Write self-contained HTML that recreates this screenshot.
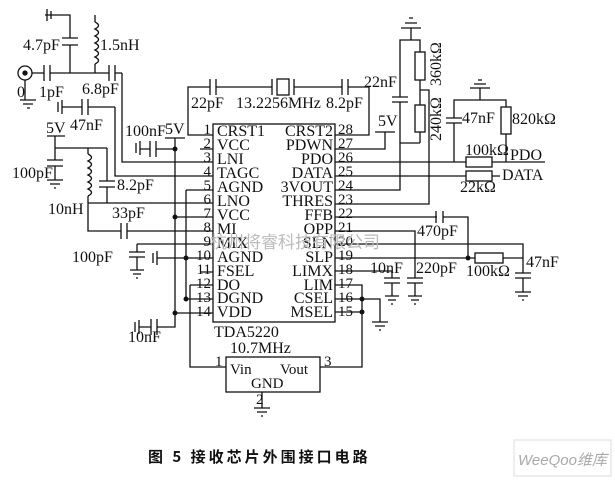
<!DOCTYPE html>
<html><head><meta charset="utf-8"><style>
body{margin:0;background:#fff}
svg{display:block}
text{font-family:"Liberation Serif","Noto Serif CJK SC",serif;font-size:15px;fill:#111}
.c{font-size:16px}
</style></head><body>
<svg width="615" height="480" viewBox="0 0 615 480" xmlns="http://www.w3.org/2000/svg">
<g stroke="#111" stroke-width="1.3" fill="none">
<rect x="213" y="124" width="122" height="198"/>
<path d="M200 135H213M188 93V135H200 M200 149H213 M122 73V162H213 M115 107V176H213 M186 190H213 M88 203H213 M175 217H213 M130 231H213 M137 244H213 M160 258H213 M200 272H213 M190 285H213 M186 299H213 M175 313H213"/>
<path d="M175 138V313 M186 190V299 M190 285V367H226"/>
<path d="M335 135H369V87H352 M335 149H385V132 M375 132H395 M335 162H466 M492 162H545 M335 176H466 M492 176H500 M335 190H400V143H420 M335 204H429V90H420 M335 217H437 M443 217H468V258 M335 231H415V278 M335 244H523V273 M335 258H475 M503 258H523 M335 271H392V278 M335 285H362V312 M335 299H380V318 M335 312H362 M320 367H362V312"/>
<path d="M188 93V87H210 M216 87H270 M296 87H342 M348 87H352"/>
<path d="M210 79V95M216 79V95M342 79V95M348 79V95"/>
<rect x="277" y="79" width="12" height="16"/><path d="M272 79V95M294 79V95"/>
<path d="M270 87H272M294 87H296"/>
<path d="M400 143V102M400 97V40H420V52M420 80V105M420 132V143M411 40V28M401 28H421M405 23H417M409 18H413"/>
<path d="M392 97H408M392 102H408"/>
<rect x="415" y="52" width="10" height="28"/><rect x="415" y="105" width="10" height="27"/>
<path d="M454 162V123M454 118V100H506V107M506 134V162M480 100V88M470 88H490M474 84H486M478 80H482"/>
<path d="M446 118H462M446 123H462"/>
<rect x="501" y="107" width="10" height="27"/>
<rect x="466" y="157" width="26" height="10"/><rect x="466" y="171" width="26" height="10"/>
<path d="M436 211V223M443 211V223"/>
<rect x="475" y="253" width="28" height="10"/>
<path d="M384 278H400M384 283H400M392 283V296M385 296H399M388 300H396M391 304H393"/>
<path d="M407 278H423M407 283H423M415 283V296M408 296H422M411 300H419M414 304H416"/>
<path d="M515 273H531M515 278H531M523 278V292M515 292H531M518 296H528M522 300H524"/>
<path d="M380 318V322M372 322H388M375 326H385M379 330H381"/>
<rect x="226" y="357" width="94" height="35"/>
<path d="M262 392V408M254 408H270M257 412H267M261 416H263"/>
<path d="M47 9V21M51 11V19M45 15H70V38M70 45V73M62 38H78M62 45H78"/>
<path d="M95 15V22 M95 64V73"/>
<path d="M95 22q7 3.5 0 7q7 3.5 0 7q7 3.5 0 7q7 3.5 0 7q7 3.5 0 7q7 3.5 0 7"/>
<circle cx="25" cy="73" r="7"/><circle cx="25" cy="73" r="2" fill="#111"/>
<path d="M32 73H44M50 73H109M115 73H122M44 65V81M50 65V81M109 65V81M115 65V81"/>
<path d="M25 80V100M20 100H36M23 104H33M27 108H30"/>
<path d="M58 102V112M62 100V114M62 107H82M82 99V115M88 99V115M88 107H115"/>
<path d="M136 143V153M140 141V155M140 149H150M150 141V157M156 141V157M156 149H175M165 138H185"/>
<path d="M47 136H65M55 136V148H107 M55 148V160M47 160H63M47 166H63M55 166V180M47 180H63M50 184H60M54 188H56"/>
<path d="M88 148V154M88 196V203M107 148V181M99 181H115M99 187H115M107 187V203"/>
<path d="M88 154q7 3.5 0 7q7 3.5 0 7q7 3.5 0 7q7 3.5 0 7q7 3.5 0 7q7 3.5 0 7"/>
<path d="M88 203V231H121M121 223V239M127 223V239M127 231H130"/>
<path d="M137 244V252M129 252H145M129 257H145M137 257V270M130 270H144M133 274H141M136 278H138"/>
<path d="M153 253V263M157 251V265M157 258H160"/>
<path d="M135 322V332M139 320V334M139 327H151M151 319V335M157 319V335M157 327H175V313"/>
</g>
<g fill="#111">
<circle cx="175" cy="149" r="2.5"/><circle cx="175" cy="217" r="2.5"/><circle cx="186" cy="258" r="2.5"/><circle cx="186" cy="299" r="2.5"/><circle cx="175" cy="313" r="2.5"/>
<circle cx="468" cy="258" r="2.5"/><circle cx="362" cy="299" r="2.5"/><circle cx="362" cy="312" r="2.5"/>
</g>
<g class="c">
<text class="c" x="217" y="136">CRST1</text><text class="c" x="217" y="150">VCC</text><text class="c" x="217" y="164">LNI</text><text class="c" x="217" y="178">TAGC</text><text class="c" x="217" y="192">AGND</text><text class="c" x="217" y="206">LNO</text><text class="c" x="217" y="220">VCC</text><text class="c" x="217" y="234">MI</text><text class="c" x="217" y="248">MIX</text><text class="c" x="217" y="262">AGND</text><text class="c" x="217" y="276">FSEL</text><text class="c" x="217" y="290">DO</text><text class="c" x="217" y="303">DGND</text><text class="c" x="217" y="317">VDD</text>
</g>
<g text-anchor="end"><text class="c" x="333" y="136">CRST2</text><text class="c" x="333" y="150">PDWN</text><text class="c" x="333" y="164">PDO</text><text class="c" x="333" y="178">DATA</text><text class="c" x="333" y="192">3VOUT</text><text class="c" x="333" y="206">THRES</text><text class="c" x="333" y="220">FFB</text><text class="c" x="333" y="234">OPP</text><text class="c" x="333" y="248">SLN</text><text class="c" x="333" y="262">SLP</text><text class="c" x="333" y="276">LIMX</text><text class="c" x="333" y="290">LIM</text><text class="c" x="333" y="303">CSEL</text><text class="c" x="333" y="317">MSEL</text>
<text x="211" y="134">1</text><text x="211" y="148">2</text><text x="211" y="162">3</text><text x="211" y="176">4</text><text x="211" y="190">5</text><text x="211" y="204">6</text><text x="211" y="218">7</text><text x="211" y="232">8</text><text x="211" y="246">9</text><text x="211" y="260">10</text><text x="211" y="274">11</text><text x="211" y="288">12</text><text x="211" y="302">13</text><text x="211" y="316">14</text></g>
<text x="338" y="134">28</text><text x="338" y="148">27</text><text x="338" y="162">26</text><text x="338" y="176">25</text><text x="338" y="190">24</text><text x="338" y="204">23</text><text x="338" y="218">22</text><text x="338" y="232">21</text><text x="338" y="246">20</text><text x="338" y="260">19</text><text x="338" y="274">18</text><text x="338" y="288">17</text><text x="338" y="302">16</text><text x="338" y="316">15</text>
<text class="c" x="214" y="337">TDA5220</text><text class="c" x="230" y="353">10.7MHz</text>
<text x="215" y="366">1</text><text x="230" y="374">Vin</text><text x="280" y="374">Vout</text><text x="324" y="366">3</text><text x="251" y="388">GND</text><text x="256" y="404">2</text>
<text class="c" x="191" y="108">22pF</text><text class="c" x="236" y="108">13.2256MHz</text><text class="c" x="326" y="108">8.2pF</text>
<text class="c" x="364" y="87">22nF</text><text class="c" x="378" y="126">5V</text>
<text class="c" x="462" y="123">47nF</text><text class="c" x="465" y="155">100kΩ</text><text class="c" x="510" y="160">PDO</text><text class="c" x="502" y="180">DATA</text><text class="c" x="460" y="192">22kΩ</text><text class="c" x="512" y="124">820kΩ</text>
<text class="c" transform="translate(441,86) rotate(-90)">360kΩ</text><text class="c" transform="translate(441,141) rotate(-90)">240kΩ</text>
<text class="c" x="417" y="236">470pF</text><text class="c" x="370" y="273">10nF</text><text class="c" x="416" y="273">220pF</text><text class="c" x="466" y="276">100kΩ</text><text class="c" x="526" y="267">47nF</text>
<text class="c" x="23" y="50">4.7pF</text><text class="c" x="100" y="50">1.5nH</text><text class="c" x="17" y="97">0</text><text class="c" x="39" y="97">1pF</text><text class="c" x="82" y="94">6.8pF</text>
<text class="c" x="70" y="130">47nF</text><text class="c" x="125" y="136">100nF</text><text class="c" x="165" y="134">5V</text><text class="c" x="46" y="133">5V</text>
<text class="c" x="12" y="178">100pF</text><text class="c" x="117" y="190">8.2pF</text><text class="c" x="48" y="214">10nH</text><text class="c" x="112" y="218">33pF</text>
<text class="c" x="72" y="262">100pF</text><text class="c" x="128" y="342">10nF</text>
<text x="210" y="248" style="fill:#bbb;font-size:17px;font-family:'Noto Sans CJK SC',sans-serif">杭州将睿科技有限公司</text>
<text x="148" y="462" style="font-size:15px;font-weight:bold;font-family:'Noto Sans CJK SC',sans-serif;letter-spacing:3px">图 5   接收芯片外围接口电路</text>
<rect x="514" y="440" width="97" height="36" fill="none" stroke="#ddd"/>
<text x="518" y="465" style="fill:#aaa;font-size:15px;font-style:italic;font-family:'Liberation Sans','Noto Sans CJK SC',sans-serif">WeeQoo维库</text>
</svg>
</body></html>
